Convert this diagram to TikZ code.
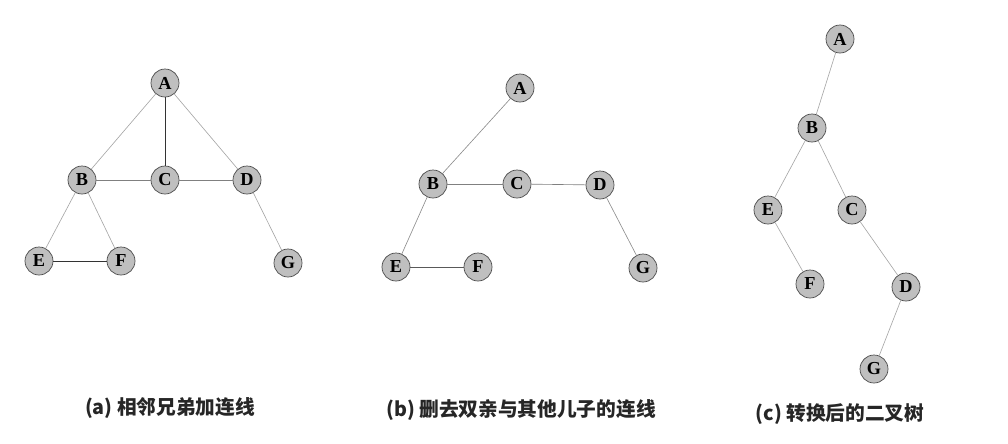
\documentclass[tikz,border=0pt]{standalone}
\usepackage{fontspec}
\setmainfont{Liberation Serif}
\newfontfamily\cjk{Noto Sans CJK SC}
\tikzset{
  vtx/.style={circle,draw=black!70,fill=black!25,line width=0.5pt,
    minimum size=0.7cm,inner sep=0pt,font=\fontsize{13}{13}\selectfont\bfseries},
  tline/.style={draw=black!35,line width=0.45pt},
  hline/.style={draw=black!80,line width=0.7pt},
  captext/.style={font=\cjk\fontsize{14}{16}\selectfont\bfseries,text=black!85}
}
\begin{document}
\begin{tikzpicture}[x=0.025cm,y=-0.025cm]
    \useasboundingbox (0,0) rectangle (1008,443);

    % (a)
    \node[vtx] (aA) at (165,83) {A};
    \node[vtx] (aB) at (82,180) {B};
    \node[vtx] (aC) at (165,180) {C};
    \node[vtx] (aD) at (247,180) {D};
    \node[vtx] (aE) at (39,261) {E};
    \node[vtx] (aF) at (121,261) {F};
    \node[vtx] (aG) at (288,263) {G};
    \draw[tline] (aA) -- (aB);
    \draw[tline] (aA) -- (aD);
    \draw[hline] (aA) -- (aC);
    \draw[tline,draw=black!50] (aB) -- (aC);
    \draw[tline,draw=black!50] (aC) -- (aD);
    \draw[tline] (aB) -- (aE);
    \draw[tline] (aB) -- (aF);
    \draw[hline] (aE) -- (aF);
    \draw[tline] (aD) -- (aG);

    % (b)
    \node[vtx] (bA) at (520,88) {A};
    \node[vtx] (bB) at (433,184) {B};
    \node[vtx] (bC) at (517,184) {C};
    \node[vtx] (bD) at (600,185) {D};
    \node[vtx] (bE) at (396,267) {E};
    \node[vtx] (bF) at (478,267) {F};
    \node[vtx] (bG) at (643,268) {G};
    \draw[tline,draw=black!45] (bA) -- (bB);
    \draw[tline,draw=black!50] (bB) -- (bC);
    \draw[tline,draw=black!50] (bC) -- (bD);
    \draw[tline,draw=black!45] (bB) -- (bE);
    \draw[hline,draw=black!65] (bE) -- (bF);
    \draw[tline,draw=black!45] (bD) -- (bG);

    % (c)
    \node[vtx] (cA) at (840,39) {A};
    \node[vtx] (cB) at (812,128) {B};
    \node[vtx] (cE) at (768,210) {E};
    \node[vtx] (cC) at (852,210) {C};
    \node[vtx] (cF) at (810,284) {F};
    \node[vtx] (cD) at (906,287) {D};
    \node[vtx] (cG) at (874,369) {G};
    \draw[tline] (cA) -- (cB);
    \draw[tline] (cB) -- (cE);
    \draw[tline] (cB) -- (cC);
    \draw[tline] (cE) -- (cF);
    \draw[tline] (cC) -- (cD);
    \draw[tline] (cD) -- (cG);

    \node[captext] (capa) at (170,408) {(a) 相邻兄弟加连线};
    \node[captext] (capb) at (521,410) {(b) 删去双亲与其他儿子的连线};
    \node[captext] (capc) at (840,414) {(c) 转换后的二叉树};
\end{tikzpicture}
\end{document}
